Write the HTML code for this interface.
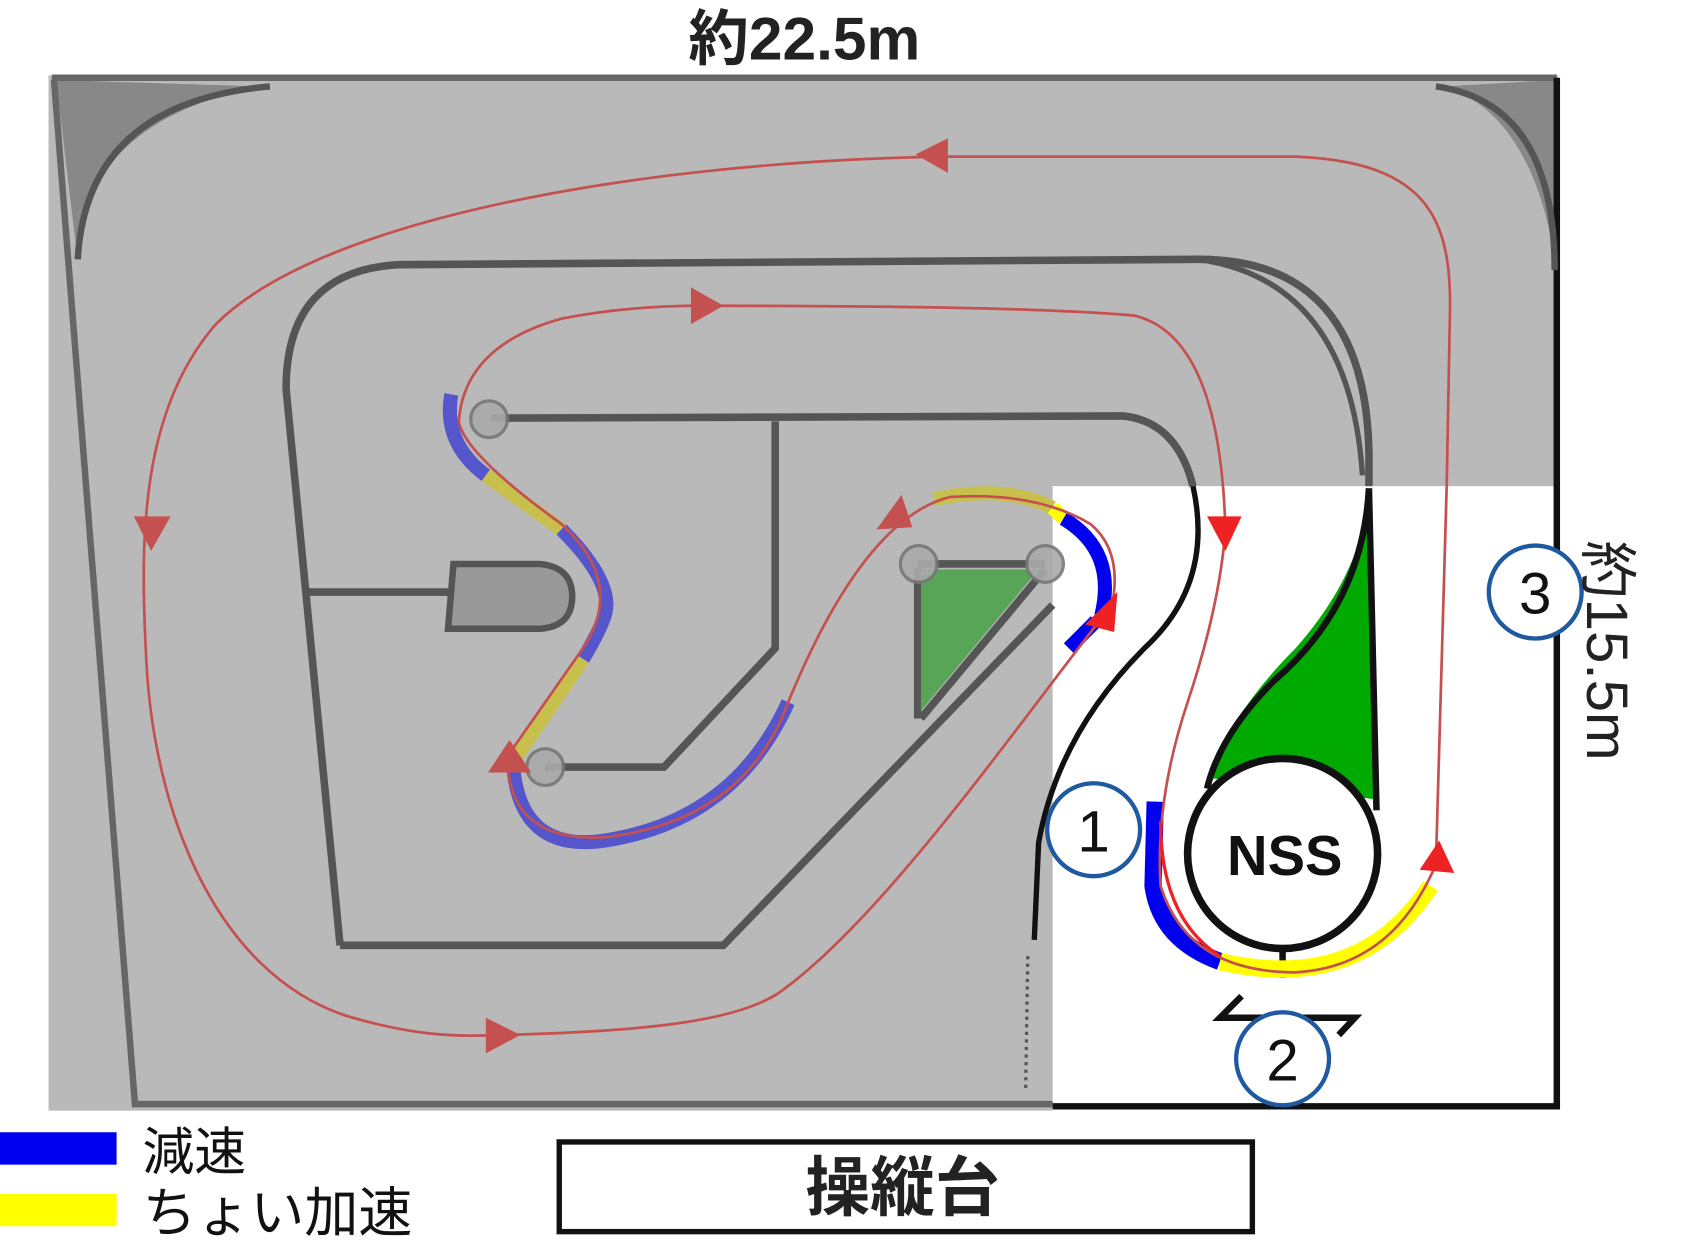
<!DOCTYPE html>
<html><head><meta charset="utf-8"><style>
html,body{margin:0;padding:0;background:#fff;width:1695px;height:1250px;overflow:hidden}
svg{display:block}
text{font-family:"Liberation Sans","Noto Sans CJK JP",sans-serif}
</style></head><body>
<svg width="1695" height="1250" viewBox="0 0 1570 1157" preserveAspectRatio="none" xmlns="http://www.w3.org/2000/svg">
<rect width="1570" height="1157" fill="#fff"/>
<rect x="45" y="70" width="930" height="958" fill="#b9b9b9"/>
<rect x="45" y="70" width="1398" height="380" fill="#b9b9b9"/>
<path d="M52,74 L70,225 Q90,110 240,80 Z" fill="#888"/>
<path d="M1440,74 L1440,240 Q1420,110 1340,80 Z" fill="#888"/>
<path d="M48,72 L1442,72" stroke="#666" stroke-width="6" fill="none"/>
<path d="M50,74 L125,1022 L975,1022" stroke="#666" stroke-width="6" fill="none"/>
<path d="M975,1024 L1442,1024 L1442,72" stroke="#111" stroke-width="6" fill="none"/>
<path d="M72,240 Q80,95 250,80" stroke="#555" stroke-width="6" fill="none"/>
<path d="M1330,80 Q1440,95 1440,250" stroke="#555" stroke-width="6" fill="none"/>
<path d="M315,875 L265,360 Q265,250 370,245 L1110,240 Q1265,240 1268,420 L1268,450" stroke="#555" stroke-width="7" fill="none"/>
<path d="M1110,240 Q1250,260 1262,440" stroke="#555" stroke-width="5" fill="none"/>
<path d="M315,875 L670,875 L975,560" stroke="#555" stroke-width="7" fill="none"/>
<path d="M850,525 L850,665" stroke="#555" stroke-width="7" fill="none"/>
<path d="M455,387 L1040,385 Q1090,390 1105,450" stroke="#555" stroke-width="7" fill="none"/>
<path d="M1105,450 Q1125,540 1060,600 Q980,680 962,780 L958,870" stroke="#111" stroke-width="5" fill="none"/>
<path d="M952,885 L950,1008" stroke="#555" stroke-width="3" stroke-dasharray="3,4" fill="none"/>
<path d="M718,390 L718,600 L615,710 L505,710" stroke="#555" stroke-width="7" fill="none"/>
<path d="M285,548 L415,548" stroke="#555" stroke-width="7" fill="none"/>
<path d="M420,522 L500,522 Q530,525 530,552 Q530,580 500,582 L415,582 Z" fill="#999" stroke="#555" stroke-width="6"/>
<path d="M853,527 L962,527 L853,658 Z" fill="#58a558"/>
<path d="M850,522 L968,522" stroke="#555" stroke-width="7"/>
<path d="M968,527 L853,665" stroke="#555" stroke-width="7"/>
<path d="M1268,455 Q1262,530 1200,600 Q1140,660 1120,720 L1275,740 Z" fill="#00aa00"/>
<path d="M1268,452 Q1262,560 1180,630 Q1130,680 1118,730" stroke="#111" stroke-width="6" fill="none"/>
<path d="M1268,452 L1275,750" stroke="#111" stroke-width="6" fill="none"/>
<circle cx="1188" cy="790" r="88" fill="#fff" stroke="#111" stroke-width="7"/>
<text x="1190" y="810" font-size="52" font-weight="bold" text-anchor="middle" fill="#111">NSS</text>
<path d="M1188,878 L1188,905 M1150,922 L1130,942 L1190,942 L1255,942 L1240,958" stroke="#111" stroke-width="6" fill="none"/>
<g fill="#aaa" stroke="#777" stroke-width="3" opacity="0.9">
<circle cx="453" cy="388" r="17"/><circle cx="851" cy="522" r="17"/><circle cx="968" cy="522" r="17"/><circle cx="505" cy="710" r="17"/>
</g>
<g fill="none" stroke-width="13">
<path d="M418,365 Q410,410 450,440" stroke="#5555cc"/>
<path d="M450,440 L520,490" stroke="#c8c04c"/>
<path d="M520,490 Q570,540 560,570 Q555,585 540,610" stroke="#5555cc"/>
<path d="M540,610 L475,705" stroke="#c8c04c"/>
<path d="M475,705 Q480,790 560,778 Q680,760 730,650" stroke="#5555cc"/>
<path d="M865,462 Q930,448 975,470" stroke="#c8c04c"/>
<path d="M975,470 L985,480" stroke="#ffff00"/>
<path d="M985,480 Q1035,510 1020,570 M1015,575 L990,600" stroke="#0000ee"/>
<path d="M1070,742 L1068,820 Q1075,870 1130,890" stroke="#0000ee" stroke-width="16"/>
<path d="M1130,890 Q1260,920 1325,820" stroke="#ffff00" stroke-width="16"/>
</g>
<g fill="none" stroke="#c55050" stroke-width="2.5">
<path d="M1340,450 L1343,290 C1345,200 1320,150 1200,145 L870,145 C600,150 300,200 200,300 C130,380 130,500 135,600 C140,750 200,900 320,940 C380,958 420,960 460,958 C600,955 680,945 720,920 C820,850 950,660 1030,560"/>
<path d="M1030,560 Q1040,510 1010,485 Q960,455 880,460 Q800,480 730,650 Q690,760 560,775 Q470,780 470,700 L540,600 Q580,540 520,485 Q430,420 425,390 Q430,320 520,295 Q580,283 650,283 Q950,283 1050,292 Q1130,310 1135,490 Q1130,560 1100,650 Q1070,740 1075,820 Q1100,900 1200,900 Q1290,895 1330,800 L1340,450"/>
</g>
<path d="M1075,760 Q1075,850 1130,885" stroke="#e22" stroke-width="3" fill="none"/>
<g fill="#c55050">
<polygon points="848,143 878,128 878,160"/>
<polygon points="670,283 640,266 640,300"/>
<polygon points="140,510 124,478 158,478"/>
<polygon points="482,958 450,942 450,975"/>
<polygon points="835,458 812,490 845,488"/>
<polygon points="472,685 452,715 492,715"/>
</g>
<g fill="#e22">
<polygon points="1035,548 1005,578 1032,585"/>
<polygon points="1135,510 1118,478 1150,478"/>
<polygon points="1333,778 1315,805 1347,808"/>
</g>
<g fill="#fff" stroke="#1f5aa0" stroke-width="4">
<circle cx="1013" cy="768" r="43"/><circle cx="1188" cy="980" r="43"/><circle cx="1422" cy="548" r="43"/>
</g>
<g font-size="54" text-anchor="middle" fill="#111">
<text x="1013" y="788">1</text><text x="1188" y="1000">2</text><text x="1422" y="568">3</text>
</g>
<rect x="600" y="15" width="290" height="52" fill="#fff"/>
<text x="745" y="55" font-size="56" font-weight="bold" text-anchor="middle" fill="#222">約22.5m</text>
<text x="0" y="0" font-size="54" fill="#222" transform="translate(1470,500) rotate(90)">約15.5m</text>
<rect x="0" y="1048" width="108" height="30" fill="#0000ee"/>
<rect x="0" y="1105" width="108" height="30" fill="#ffff00"/>
<text x="132" y="1083" font-size="48" fill="#111">減速</text>
<text x="132" y="1140" font-size="50" fill="#111">ちょい加速</text>
<rect x="518" y="1057" width="642" height="83" fill="#fff" stroke="#111" stroke-width="5"/>
<text x="836" y="1120" font-size="60" font-weight="bold" text-anchor="middle" fill="#222">操縦台</text>
</svg>
</body></html>
